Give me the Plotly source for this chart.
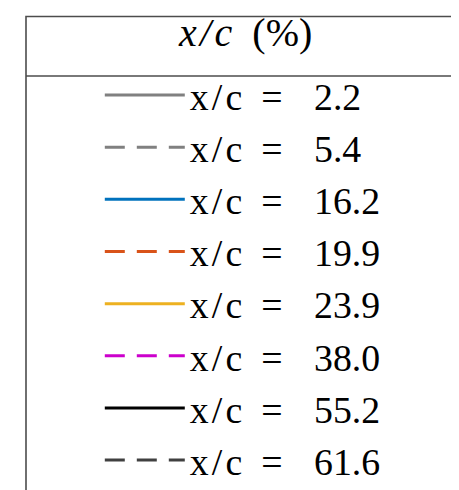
import plotly.graph_objects as go

# legend entries
positions = [2.2, 5.4, 16.2, 19.9, 23.9, 38.0, 55.2, 61.6]
line_colors = ["#808080", "#808080", "#0072BD", "#D95319",
               "#EDB120", "#CC00CC", "#000000", "#404040"]
line_dashes = ["solid", "20px,12px", "solid", "20px,12px",
               "solid", "20px,12px", "solid", "20px,12px"]
legend_title = "<i>x\u200a/\u200ac</i>\u00a0\u00a0(%)"

SERIF = "Liberation Serif"
W, H = 459, 490
HAIR, NB = "\u200a", "\u00a0"

fig = go.Figure()

for pos, col, dash in zip(positions, line_colors, line_dashes):
    fig.add_trace(go.Scatter(
        x=[None],
        y=[None],
        mode="lines",
        line=dict(color=col, width=3, dash=dash),
        name=f"x{HAIR}/{HAIR}c{NB * 2}={NB * 3}{HAIR}{pos:.1f}",
        showlegend=True,
    ))

fig.update_layout(
    width=W,
    height=H,
    margin=dict(l=0, r=0, t=0, b=0),
    paper_bgcolor="white",
    plot_bgcolor="white",
    xaxis=dict(visible=False),
    yaxis=dict(visible=False),
    legend=dict(
        x=0.2,
        y=1 - 56 / H,
        xanchor="left",
        yanchor="top",
        bgcolor="rgba(0,0,0,0)",
        borderwidth=0,
        itemwidth=80,
        font=dict(family=SERIF, size=37.8, color="black"),
    ),
    annotations=[
        dict(text=legend_title, xref="paper", yref="paper",
             x=237 / W, y=1 - 25 / H,
             xanchor="center", yanchor="middle", showarrow=False,
             font=dict(family=SERIF, size=40, color="black")),
    ],
    shapes=[
        # legend frame (runs off the right and bottom edge)
        dict(type="rect", xref="paper", yref="paper",
             x0=18 / W, x1=1.05, y0=-0.05, y1=1 - 8.5 / H,
             line=dict(color="#4d4d4d", width=1.6)),
        # separator under the title
        dict(type="line", xref="paper", yref="paper",
             x0=18 / W, x1=1.05, y0=1 - 68 / H, y1=1 - 68 / H,
             line=dict(color="#4d4d4d", width=1.6)),
    ],
)

fig.write_html("out.html")
